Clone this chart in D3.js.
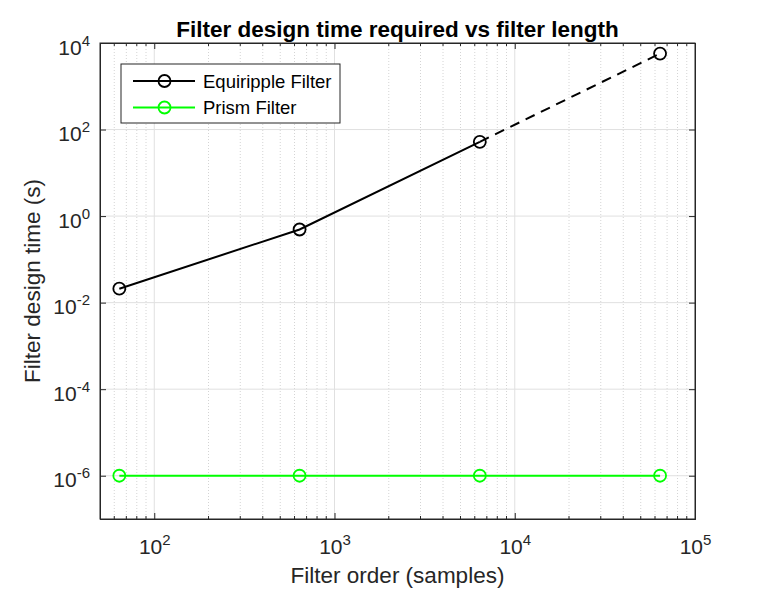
<!DOCTYPE html>
<html>
<head>
    <title>Filter design time</title>
    <script src="https://d3js.org/d3.v7.min.js"></script>
    <style>
        body { margin: 0; background: #fff; }
        text { font-family: "Liberation Sans", Arial, sans-serif; }
    </style>
</head>
<body>
<script>
// data
const filterOrders = [64, 640, 6400, 64000];
const equirippleTimes = [0.021, 0.49, 52, 5700];
const prismTimes = [1e-6, 1e-6, 1e-6, 1e-6];
const xTickValues = [1e2, 1e3, 1e4, 1e5];
const yTickValues = [1e-6, 1e-4, 1e-2, 1e0, 1e2, 1e4];
const seriesNames = ['Equiripple Filter', 'Prism Filter'];

drawChart();

function drawChart() {
    const margin = { top: 43, right: 73, bottom: 71, left: 100 };
    const width = 768 - margin.left - margin.right;
    const height = 590 - margin.top - margin.bottom;
    const axisColor = '#262626';

    const svg = d3.select('body')
        .append('svg')
        .attr('width', 768)
        .attr('height', 590)
        .append('g')
        .attr('transform', `translate(${margin.left},${margin.top})`);

    const x = d3.scaleLog().domain([50, 1e5]).range([0, width]);
    const y = d3.scaleLog().domain([1e-7, 1e4]).range([height, 0]);

    // minor x values: 2..9 of each decade inside the domain
    const minorX = [];
    [10, 100, 1000, 10000].forEach(dec => {
        for (let k = 2; k <= 9; k++) {
            const v = k * dec;
            if (v > 50 && v < 1e5) minorX.push(v);
        }
    });

    // grid
    svg.append('g').selectAll('line')
        .data(minorX)
        .enter().append('line')
        .attr('x1', d => x(d)).attr('x2', d => x(d))
        .attr('y1', 0).attr('y2', height)
        .attr('stroke', '#d4d4d4')
        .attr('stroke-dasharray', '1,2');

    svg.append('g').selectAll('line')
        .data(xTickValues.filter(d => d < 1e5))
        .enter().append('line')
        .attr('x1', d => x(d)).attr('x2', d => x(d))
        .attr('y1', 0).attr('y2', height)
        .attr('stroke', '#e0e0e0');

    svg.append('g').selectAll('line')
        .data(yTickValues.filter(d => d < 1e4))
        .enter().append('line')
        .attr('x1', 0).attr('x2', width)
        .attr('y1', d => y(d)).attr('y2', d => y(d))
        .attr('stroke', '#e0e0e0');

    // power-of-ten labels with a superscript exponent
    const supLabel = sel => {
        sel.each(function(d) {
            const t = d3.select(this);
            t.text(null);
            t.append('tspan').text('10');
            t.append('tspan')
                .attr('dy', -9)
                .style('font-size', '15px')
                .text(Math.round(Math.log10(d)));
        });
    };

    const xAxis = svg.append('g')
        .attr('transform', `translate(0,${height})`)
        .call(d3.axisBottom(x).tickValues(xTickValues).tickSize(-6).tickFormat(() => ''));
    xAxis.selectAll('text')
        .attr('y', 35)
        .attr('dy', 0)
        .attr('text-anchor', 'middle')
        .style('font-size', '21px')
        .attr('fill', axisColor)
        .call(supLabel);

    const yAxis = svg.append('g')
        .call(d3.axisLeft(y).tickValues(yTickValues).tickSize(-6).tickFormat(() => ''));
    yAxis.selectAll('text')
        .attr('x', -10)
        .attr('dy', 11)
        .attr('text-anchor', 'end')
        .style('font-size', '21px')
        .attr('fill', axisColor)
        .call(supLabel);

    svg.append('g')
        .call(d3.axisTop(x).tickValues(xTickValues).tickSize(-6).tickFormat(''));
    svg.append('g')
        .attr('transform', `translate(${width},0)`)
        .call(d3.axisRight(y).tickValues(yTickValues).tickSize(-6).tickFormat(''));

    // minor ticks
    [[height, -3], [0, 3]].forEach(([yy, len]) => {
        svg.append('g').selectAll('line')
            .data(minorX)
            .enter().append('line')
            .attr('x1', d => x(d)).attr('x2', d => x(d))
            .attr('y1', yy).attr('y2', yy + len)
            .attr('stroke', axisColor);
    });

    svg.selectAll('.domain').attr('stroke', axisColor);
    svg.selectAll('.tick line').attr('stroke', axisColor);
    svg.append('rect')
        .attr('width', width).attr('height', height)
        .attr('fill', 'none')
        .attr('stroke', axisColor);

    // series
    const eq = filterOrders.map((o, i) => ({ o, t: equirippleTimes[i] }));
    const pr = filterOrders.map((o, i) => ({ o, t: prismTimes[i] }));
    const line = d3.line().x(d => x(d.o)).y(d => y(d.t));

    svg.append('path')
        .datum(eq.slice(0, 3))
        .attr('d', line)
        .attr('fill', 'none')
        .attr('stroke', '#000')
        .attr('stroke-width', 2);
    svg.append('path')
        .datum(eq.slice(2))
        .attr('d', line)
        .attr('fill', 'none')
        .attr('stroke', '#000')
        .attr('stroke-width', 2)
        .attr('stroke-dasharray', '10,7');
    svg.append('path')
        .datum(pr)
        .attr('d', line)
        .attr('fill', 'none')
        .attr('stroke', '#00ff00')
        .attr('stroke-width', 2);

    svg.append('g').selectAll('circle')
        .data(eq)
        .enter().append('circle')
        .attr('cx', d => x(d.o)).attr('cy', d => y(d.t))
        .attr('r', 6)
        .attr('fill', 'none')
        .attr('stroke', '#000')
        .attr('stroke-width', 1.8);
    svg.append('g').selectAll('circle')
        .data(pr)
        .enter().append('circle')
        .attr('cx', d => x(d.o)).attr('cy', d => y(d.t))
        .attr('r', 6)
        .attr('fill', 'none')
        .attr('stroke', '#00ff00')
        .attr('stroke-width', 1.8);

    // legend
    const legend = svg.append('g').attr('transform', 'translate(21,21)');
    legend.append('rect')
        .attr('width', 219).attr('height', 59)
        .attr('fill', '#fff')
        .attr('stroke', axisColor);
    const colors = ['#000', '#00ff00'];
    seriesNames.forEach((name, i) => {
        const ly = 17 + i * 26.5;
        legend.append('line')
            .attr('x1', 12).attr('x2', 74)
            .attr('y1', ly).attr('y2', ly)
            .attr('stroke', colors[i]).attr('stroke-width', 2);
        legend.append('circle')
            .attr('cx', 43.5).attr('cy', ly).attr('r', 6)
            .attr('fill', 'none')
            .attr('stroke', colors[i]).attr('stroke-width', 1.8);
        legend.append('text')
            .attr('x', 82).attr('y', ly + 6.5)
            .style('font-size', '18.5px')
            .attr('fill', '#000')
            .text(name);
    });

    // title and labels
    svg.append('text')
        .attr('x', width / 2)
        .attr('y', -6)
        .attr('text-anchor', 'middle')
        .style('font-size', '22.5px')
        .style('font-weight', 'bold')
        .attr('fill', '#000')
        .text('Filter design time required vs filter length');

    svg.append('text')
        .attr('x', width / 2)
        .attr('y', height + 64)
        .attr('text-anchor', 'middle')
        .style('font-size', '22.5px')
        .attr('fill', axisColor)
        .text('Filter order (samples)');

    svg.append('text')
        .attr('x', -height / 2)
        .attr('y', -60)
        .attr('transform', 'rotate(-90)')
        .attr('text-anchor', 'middle')
        .style('font-size', '22.5px')
        .attr('fill', axisColor)
        .text('Filter design time (s)');
}
</script>
</body>
</html>
